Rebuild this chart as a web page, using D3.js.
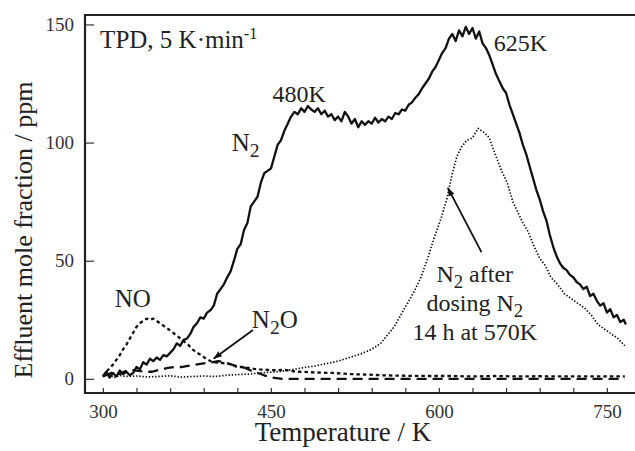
<!DOCTYPE html>
<html>
<head>
<meta charset="utf-8">
<script src="https://d3js.org/d3.v7.min.js"></script>
<style>
  body { margin: 0; background: #fff; }
  text { font-family: "Liberation Serif", "Times New Roman", serif; fill: #222; }
  .tick text { fill: #333; }
</style>
</head>
<body>
<div id="chart"></div>
<script>
// N2 TPD (solid)
var n2T = [300,303,306,309,312,315,318,321,324,327,330,333,336,339,342,345,348,351,354,357,360,363,366,369,372,375,378,381,384,387,390,393,396,399,402,405,408,411,414,417,420,423,426,429,432,435,438,441,444,447,450,453,456,459,462,465,468,471,474,477,480,483,486,489,492,495,498,501,504,507,510,513,516,519,522,525,528,531,534,537,540,543,546,549,552,555,558,561,564,567,570,573,576,579,582,585,588,591,594,597,600,603,606,609,612,615,618,621,624,627,630,633,636,639,642,645,648,651,654,657,660,663,666,669,672,675,678,681,684,687,690,693,696,699,702,705,708,711,714,717,720,723,726,729,732,735,738,741,744,747,750,753,756,759,762,765,767]
var n2V = [1,3,0.5,2.5,1,3.5,2,3,1.5,2.5,5,4,7,6,8.5,7.5,9,8,10,9.5,11,12.5,15,14,16.5,17,19,22,23.5,26,25.5,28,29,31,36,38,40,43,45.5,50,55,57,63,66,73,75,77,83,87,88,89,94,99,101,105,108,111,113,112,114.5,113,115.5,114,113,114.5,112,113.5,111,112,109.5,111,109,113,111,108,110,106.5,109,107.5,109,108,110.5,108.5,110,109,111,110,112.5,112,114,113.5,116,117,119,120.5,123,125,127,130,132,135,138,140,144,146,143,147.5,145,149,146,148.5,144,147,142,140,137,133,129,126,123,121,116,112,108,104,99,95,90,85,80,76,71,67,61,56,52,49,47,46,44,43,41,40,38,39,35,36,33,31,32,28,29.5,26,27,24,25,23]

// N2 after dosing N2 14 h at 570 K (thin dotted)
var dosT = [300,305,310,315,320,330,340,350,360,370,380,390,400,410,420,430,440,450,460,470,480,490,500,510,520,530,540,548,554,560,566,572,578,584,590,596,602,607,612,616,620,625,630,635,638,641,645,648,652,656,661,666,670,675,680,685,690,695,700,706,712,718,724,730,736,742,748,754,760,766]
var dosV = [1,2,0.5,1.5,1,1.2,0.8,1,1.3,0.7,1,1.2,1,1.5,1.8,2,2.5,2.8,3.2,4,4.8,5.5,6.5,7.5,9,10.5,12.5,15,18.5,22,27,32,37,43,51,60,68,76,87,94,98,101,102,106,105,104,102,98,93,88,83,75,71,66,62,56,51,48,43,40,36,34,32,30,27,23,21,19,17,14]

// NO (short dashes)
var noT = [300,303,306,309,312,315,318,321,324,327,330,333,336,339,342,345,348,351,354,357,360,364,368,372,376,380,384,388,392,396,400,405,410,415,420,425,430,435,440,447,455,462,470,476,485,495,505,520,535,550,570,590,610,630,650,670,690,710,730,750,766]
var noV = [1,3,4.5,6,8,10,12.5,14.5,17,19.5,22,23.5,24.5,25.5,25,25.5,24.5,23.5,22.5,21.5,20.5,19,17.5,16,14.5,12.5,11,10,8.5,7.5,7,6.8,6.5,6,5,5,4.6,4.2,4,3.8,3.6,3.8,3.2,3,2.8,2.6,2.5,2,1.8,1.5,1.3,1.2,1.2,1,1.2,1,1.1,1,1,1,1]

// N2O (long dashes)
var n2oT = [300,305,310,315,322,330,338,344,350,358,364,370,376,382,390,397,403,409,415,421,427,432,438,444,451,460,500,550,600,650,700,766]
var n2oV = [1,2,3,2,3.8,3.5,3,3,3.8,4.6,5,5,5.5,6,6.5,7,7.5,7,6,5.2,4.6,3.5,2.5,1.5,0.5,0,0,0,0,0,0,0]

var xTicks = d3.range(300, 751, 30)
var xLabels = [300, 450, 600, 750]
var yTicks = [0, 50, 100, 150]

var width = 635
var height = 451
var margin = {left: 85, top: 15, bottom: 58, right: -1}

var svg = d3.select("#chart")
            .append("svg")
            .attr("width", width)
            .attr("height", height)

var xScale = d3.scaleLinear().domain([284, 776]).range([margin.left, width - margin.right])
var yScale = d3.scaleLinear().domain([-6, 154]).range([height - margin.bottom, margin.top])

var xAxis = d3.axisBottom(xScale)
              .tickValues(xTicks)
              .tickSizeInner(-5)
              .tickSizeOuter(0)
              .tickPadding(12)
              .tickFormat(d => xLabels.includes(d) ? d : "")
var yAxis = d3.axisLeft(yScale)
              .tickValues(yTicks)
              .tickSizeInner(-9)
              .tickSizeOuter(0)
              .tickPadding(11)

svg.append("g")
   .attr("transform", "translate(0," + (height - margin.bottom) + ")")
   .call(xAxis)
svg.append("g")
   .attr("transform", "translate(" + margin.left + ",0)")
   .call(yAxis)

svg.selectAll(".domain").remove()
svg.selectAll(".tick line").attr("stroke", "#333").attr("stroke-width", 1.2)
svg.selectAll(".tick text").style("font-size", "19px")

// frame: left, top, bottom
var y0 = height - margin.bottom, x1 = width
svg.append("path")
   .attr("d", "M" + x1 + "," + margin.top + "H" + margin.left + "V" + y0 + "H" + x1)
   .attr("fill", "none")
   .attr("stroke", "#222")
   .attr("stroke-width", 2.2)

// series
function toPts(ts, vs) { return ts.map((t, i) => [t, vs[i]]) }
var line = d3.line().x(d => xScale(d[0])).y(d => yScale(d[1]))

var series = [
  {pts: toPts(dosT, dosV), w: 1.7, dash: "1.4,1.8"},
  {pts: toPts(n2oT, n2oV), w: 2.3, dash: "10,6"},
  {pts: toPts(noT, noV), w: 2.3, dash: "3.5,3"},
  {pts: toPts(n2T, n2V), w: 2.3, dash: null}
]
svg.selectAll(".series")
   .data(series)
   .enter()
   .append("path")
   .attr("class", "series")
   .attr("d", d => line(d.pts))
   .attr("fill", "none")
   .attr("stroke", "#111")
   .attr("stroke-width", d => d.w)
   .attr("stroke-dasharray", d => d.dash)
   .attr("stroke-linejoin", "round")

// arrows (data coords)
var defs = svg.append("defs")
defs.append("marker")
    .attr("id", "head")
    .attr("viewBox", "0 0 10 10")
    .attr("refX", 9).attr("refY", 5)
    .attr("markerWidth", 5).attr("markerHeight", 5)
    .attr("markerUnits", "strokeWidth")
    .attr("orient", "auto")
    .append("path").attr("d", "M0,1.5L10,5L0,8.5Z").attr("fill", "#111")

var arrows = [
  {from: [434, 20.7], to: [399, 8.6]},
  {from: [638, 53.6], to: [608, 80.8]}
]
svg.selectAll(".arrow")
   .data(arrows)
   .enter()
   .append("line")
   .attr("x1", d => xScale(d.from[0])).attr("y1", d => yScale(d.from[1]))
   .attr("x2", d => xScale(d.to[0])).attr("y2", d => yScale(d.to[1]))
   .attr("stroke", "#111")
   .attr("stroke-width", 1.8)
   .attr("marker-end", "url(#head)")

// labels
function label(t, v, size, anchor) {
  return svg.append("text")
            .attr("x", xScale(t)).attr("y", yScale(v))
            .attr("text-anchor", anchor || "start")
            .style("font-size", size + "px")
}
function sub(sel, base, s, rest) {
  sel.append("tspan").text(base)
  sel.append("tspan").attr("dy", 6).style("font-size", "0.78em").text(s)
  if (rest) sel.append("tspan").attr("dy", -6).text(rest)
}

var tpd = label(297.5, 140, 25)
tpd.append("tspan").text("TPD, 5 K\u00b7min")
tpd.append("tspan").attr("dy", -9).style("font-size", "16px").text("-1")

label(451.5, 117.3, 24).text("480K")
label(649, 138.8, 24).text("625K")
sub(label(415, 96.6, 25), "N", "2")
label(310.5, 30.4, 25).text("NO")
sub(label(433, 21.5, 25), "N", "2", "O")

sub(label(632, 40.9, 24, "middle"), "N", "2", " after")
sub(label(632, 28.5, 24, "middle"), "dosing N", "2")
label(632, 16.5, 24, "middle").text("14 h at 570K")

// axis titles
svg.append("text")
   .attr("x", 343).attr("y", 441)
   .attr("text-anchor", "middle")
   .style("font-size", "27px")
   .text("Temperature / K")
svg.append("text")
   .attr("transform", "translate(32,230) rotate(-90)")
   .attr("text-anchor", "middle")
   .style("font-size", "26px")
   .text("Effluent mole fraction / ppm")
</script>
</body>
</html>
